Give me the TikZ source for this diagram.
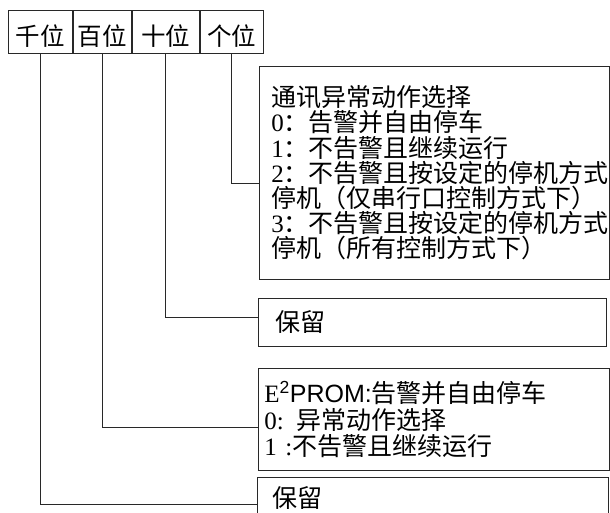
\documentclass[tikz,border=0pt]{standalone}
\usepackage{fontspec}
\setmainfont{Liberation Serif}
\setsansfont{Liberation Sans}
\newfontfamily\cjk{Noto Sans CJK SC}
\usepackage{tikz}
\usetikzlibrary{positioning}
\definecolor{frameblack}{RGB}{40,40,40}

\begin{document}
\begin{tikzpicture}[x=1pt, y=-1pt,
  cell/.style={draw=frameblack, line width=0.9pt, minimum height=43pt,
               inner sep=0pt, text height=30pt, text depth=2pt,
               font=\fontsize{24.5}{25}\selectfont\cjk},
  box/.style={draw=frameblack, line width=0.9pt, anchor=north west,
              align=left, inner ysep=0pt,
              font=\fontsize{25}{25.2}\selectfont},
  link/.style={draw=frameblack, line width=0.9pt},
]
\useasboundingbox (0,0) rectangle (610,512);

% digit header
\node[cell, minimum width=64pt, anchor=north west] (qian) at (8,10) {千位};
\node[cell, minimum width=58pt, right=0pt of qian] (bai) {百位};
\node[cell, minimum width=67pt, right=0pt of bai] (shi) {十位};
\node[cell, minimum width=63pt, right=0pt of shi] (ge) {个位};

% meaning of each digit
\node[box, inner xsep=12pt, text width=326pt, minimum height=213pt] (geopt) at (259,66) {
  {\cjk 通讯异常动作选择}\\
  0{\cjk ：告警并自由停车}\\
  1{\cjk ：不告警且继续运行}\\
  2{\cjk ：不告警且按设定的停机方式}\\
  {\cjk 停机（仅串行口控制方式下）}\\
  3{\cjk ：不告警且按设定的停机方式}\\
  {\cjk 停机（所有控制方式下）}
};
\node[box, inner xsep=17pt, text width=314pt, minimum height=48pt] (shiopt) at (258,298) {
  {\cjk 保留}
};
\node[box, inner xsep=6pt, text width=339pt, minimum height=102pt] (baiopt) at (258,368) {
  E\textsuperscript{\sffamily 2}{\sffamily PROM:}{\cjk 告警并自由停车}\\[1.5pt]
  0: {\cjk 异常动作选择}\\[1pt]
  1 :{\cjk 不告警且继续运行}
};
\node[box, inner xsep=15pt, text width=321pt, minimum height=41pt] (qianopt) at (257,477) {
  {\cjk 保留}
};

\draw[link] (ge.south) |- ([yshift=-10.5pt]geopt.west);
\draw[link] (shi.south) |- ([yshift=5pt]shiopt.west);
\draw[link] (bai.south) |- ([yshift=-8pt]baiopt.west);
\draw[link] (qian.south) |- ([yshift=-6.5pt]qianopt.west);
\end{tikzpicture}
\end{document}
